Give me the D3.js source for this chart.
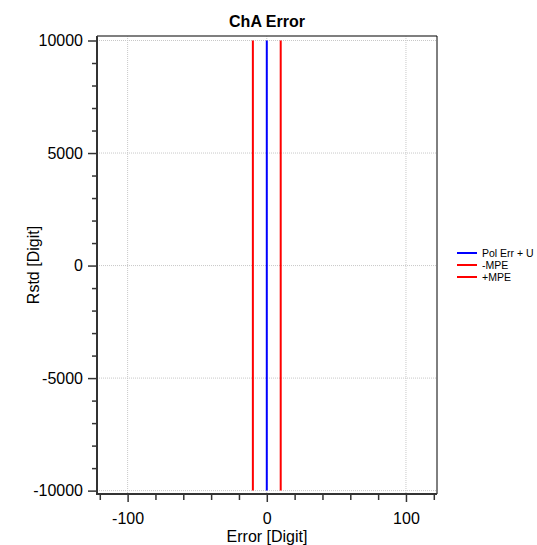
<!DOCTYPE html>
<html lang="en">
<head>
    <meta charset="UTF-8">
    <title>ChA Error</title>
    <script src="https://d3js.org/d3.v7.min.js"></script>
    <style>
        body { margin: 0; background: #fff; }
        svg { font-family: "Liberation Sans", Arial, sans-serif; }
    </style>
</head>
<body>
<div id="chartArea"></div>
<script>
    // data
    const rstd = [-10000, -5000, 0, 5000, 10000];
    const polErr = [0, 0, 0, 0, 0];
    const minusMpe = [-10, -10, -10, -10, -10];
    const plusMpe = [10, 10, 10, 10, 10];
    const seriesNames = ["Pol Err + U", "-MPE", "+MPE"];
    const seriesColors = ["#0000ff", "#ff0000", "#ff0000"];
    const xTicks = [-100, 0, 100];
    const xMinor = [-120, -80, -60, -40, -20, 20, 40, 60, 80, 120];
    const yTicks = [-10000, -5000, 0, 5000, 10000];
    const yMinor = [-9000, -8000, -7000, -6000, -4000, -3000, -2000, -1000,
                    1000, 2000, 3000, 4000, 6000, 7000, 8000, 9000];

    const W = 537, H = 545;
    const m = { left: 97, right: 437, top: 36, bottom: 494 };

    const svg = d3.select("#chartArea").append("svg")
        .attr("width", W)
        .attr("height", H);

    const x = d3.scaleLinear().domain([-122, 122.3]).range([m.left, m.right]);
    const y = d3.scaleLinear().domain([-10150, 10200]).range([m.bottom, m.top]);

    // grid
    svg.append("g").selectAll("line").data(xTicks).enter().append("line")
        .attr("x1", d => x(d)).attr("x2", d => x(d))
        .attr("y1", m.top).attr("y2", m.bottom)
        .attr("stroke", "#c8c8c8").attr("stroke-dasharray", "1,1");
    svg.append("g").selectAll("line").data(yTicks).enter().append("line")
        .attr("x1", m.left).attr("x2", m.right)
        .attr("y1", d => y(d)).attr("y2", d => y(d))
        .attr("stroke", "#c8c8c8").attr("stroke-dasharray", "1,1");

    // frame top / right
    svg.append("line").attr("x1", m.left).attr("x2", m.right).attr("y1", m.top).attr("y2", m.top)
        .attr("stroke", "#555").attr("stroke-width", 1.5);
    svg.append("line").attr("x1", m.right).attr("x2", m.right).attr("y1", m.top).attr("y2", m.bottom)
        .attr("stroke", "#000").attr("stroke-width", 1);

    // axes
    const plain = d => String(d);   // hyphen minus, like the original
    function styleAxis(g) {
        g.select(".domain").remove();
        g.attr("font-family", null);
        g.selectAll("line").attr("stroke", "#333").attr("stroke-width", 1.5);
        g.selectAll("text").attr("font-size", "16px").attr("fill", "#000");
    }

    svg.append("g").attr("transform", `translate(${m.left},0)`)
        .call(d3.axisLeft(y).tickValues(yMinor).tickSize(5).tickFormat(""))
        .call(styleAxis);
    svg.append("g").attr("transform", `translate(${m.left},0)`)
        .call(d3.axisLeft(y).tickValues(yTicks).tickSize(9).tickPadding(5).tickFormat(plain))
        .call(styleAxis);
    svg.append("line").attr("x1", m.left).attr("x2", m.left).attr("y1", m.top).attr("y2", m.bottom + 1)
        .attr("stroke", "#333").attr("stroke-width", 2);

    svg.append("g").attr("transform", `translate(0,${m.bottom})`)
        .call(d3.axisBottom(x).tickValues(xMinor).tickSize(6).tickFormat(""))
        .call(styleAxis);
    svg.append("g").attr("transform", `translate(0,${m.bottom})`)
        .call(d3.axisBottom(x).tickValues(xTicks).tickSize(8).tickPadding(11).tickFormat(plain))
        .call(styleAxis);
    svg.append("line").attr("x1", m.left).attr("x2", m.right).attr("y1", m.bottom).attr("y2", m.bottom)
        .attr("stroke", "#333").attr("stroke-width", 2);

    // series
    const line = d3.line().x(d => x(d[0])).y(d => y(d[1]));
    [polErr, minusMpe, plusMpe].forEach((vals, i) => {
        svg.append("path")
            .datum(vals.map((v, j) => [v, rstd[j]]))
            .attr("d", line)
            .attr("fill", "none")
            .attr("stroke", seriesColors[i])
            .attr("stroke-width", 2);
    });

    // titles
    svg.append("text").attr("x", (m.left + m.right) / 2).attr("y", 27)
        .attr("text-anchor", "middle").attr("font-size", "16px").attr("font-weight", "bold")
        .text("ChA Error");
    svg.append("text").attr("x", (m.left + m.right) / 2).attr("y", 542)
        .attr("text-anchor", "middle").attr("font-size", "16px")
        .text("Error [Digit]");
    svg.append("text").attr("transform", `translate(39,${(m.top + m.bottom) / 2}) rotate(-90)`)
        .attr("text-anchor", "middle").attr("font-size", "16px")
        .text("Rstd [Digit]");

    // legend
    const lg = svg.append("g").attr("transform", "translate(457,253)");
    seriesNames.forEach((name, i) => {
        const row = lg.append("g").attr("transform", `translate(0,${i * 12})`);
        row.append("line").attr("x1", 0).attr("x2", 20).attr("y1", 0).attr("y2", 0)
            .attr("stroke", seriesColors[i]).attr("stroke-width", 2);
        row.append("text").attr("x", 25).attr("y", 4).attr("font-size", "10.5px").text(name);
    });
</script>
</body>
</html>
